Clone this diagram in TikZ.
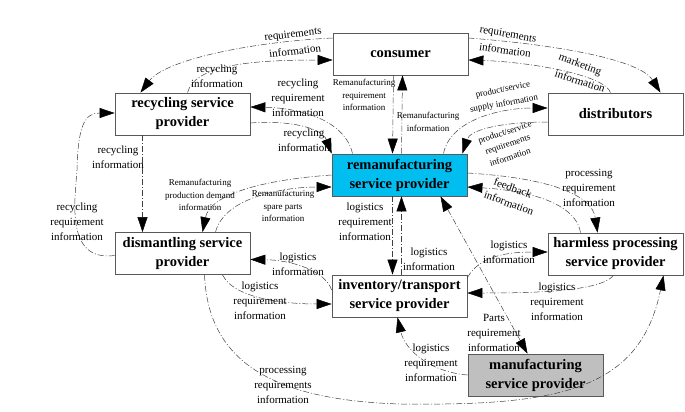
\documentclass[tikz,border=0pt]{standalone}
\usepackage{fontspec}
\setmainfont{Liberation Serif}
\usetikzlibrary{arrows.meta}
\begin{document}
\begin{tikzpicture}[x=1pt,y=-1pt,
  box/.style={draw=black!65,line width=0.8pt,minimum width=135pt,minimum height=42pt,
    inner sep=1pt,align=center,font=\fontsize{14.5}{19}\selectfont\bfseries},
  conn/.style={draw=black!75,line width=0.5pt,dash pattern=on 6pt off 2pt on 1pt off 2pt,
    -{Triangle[length=15pt,width=10pt,color=black]}},
  lab/.style={align=center,inner sep=0pt,font=\fontsize{11}{15}\selectfont},
  slab/.style={align=center,inner sep=0pt,font=\fontsize{9}{12.5}\selectfont}]
\useasboundingbox (0,0) rectangle (685,412);

% nodes
\node[box] (con) at (400.5,54) {consumer};
\node[box] (rec) at (182.5,114) {recycling service\\provider};
\node[box] (dst) at (615.5,114) {distributors};
\node[box,fill={rgb,255:red,0;green,190;blue,240}] (rem) at (399.5,175) {remanufacturing\\service provider};
\node[box] (dsm) at (182.5,253.5) {dismantling service\\provider};
\node[box] (har) at (615.5,254) {harmless processing\\service provider};
\node[box] (inv) at (399.5,296) {inventory/transport\\service provider};
\node[box,fill=black!25] (man) at (535.5,375) {manufacturing\\service provider};

% 1 consumer -> recycling
\draw[conn] ([yshift=16pt]con.west) .. controls (250,42) and (165,60) .. ([xshift=-42pt]rec.north);
\node[lab,rotate=7] (l1a) at (293,35) {requirements};
\node[lab,rotate=7] (l1b) at (295,51) {information};
% 2 recycling -> consumer
\draw[conn] ([xshift=5pt]rec.north) .. controls (195,65) and (250,60) .. ([yshift=-6pt]con.west);
\node[lab] (l2) at (217,76) {recycling\\information};
% 3 remanufacturing -> recycling
\draw[conn] ([xshift=-47pt]rem.north) .. controls (345,120) and (300,108) .. ([yshift=7pt]rec.east);
\node[lab] (l3) at (298,98) {recycling\\requirement\\information};
% 4 recycling -> remanufacturing
\draw[conn] ([yshift=-9pt]rec.east) .. controls (290,120) and (322,128) .. (rem.north west);
\node[lab] (l4) at (304,140) {recycling\\information};
% 5 consumer <-> remanufacturing
\draw[conn] ([xshift=-7pt]con.south) -- ([xshift=-7pt]rem.north);
\draw[conn] ([xshift=2pt]rem.north) -- ([xshift=2pt]con.south);
\node[slab] (l5a) at (364,95) {Remanufacturing\\requirement\\information};
\node[slab] (l5b) at (428,122) {Remanufacturing\\information};
% 6 consumer -> distributors
\draw[conn] ([yshift=16pt]con.east) .. controls (560,45) and (640,60) .. ([xshift=45pt]dst.north);
\node[lab,rotate=-10] (l6a) at (508,35) {requirements};
\node[lab,rotate=-8] (l6b) at (505,50) {information};
% 7 distributors -> consumer
\draw[conn] ([xshift=-5pt]dst.north) .. controls (605,75) and (530,62) .. ([yshift=-6pt]con.east);
\node[lab,rotate=-20] (l7a) at (580,65) {marketing};
\node[lab,rotate=-18] (l7b) at (580,81) {information};
% 8 remanufacturing -> distributors
\draw[conn] ([xshift=44pt]rem.north) .. controls (450,120) and (500,108) .. ([yshift=6pt]dst.west);
\node[slab,rotate=12] (l8a) at (503,90) {product/service};
\node[slab,rotate=10] (l8b) at (504,104) {supply information};
% 9 distributors -> remanufacturing
\draw[conn] ([yshift=-8pt]dst.west) .. controls (500,122) and (470,130) .. ([xshift=-5pt]rem.north east);
\node[slab,rotate=18] (l9a) at (505,133) {product/service};
\node[slab,rotate=18] (l9b) at (508,145) {requirements};
\node[slab,rotate=18] (l9c) at (510,157) {information};
% 10 remanufacturing -> harmless
\draw[conn] ([yshift=2pt]rem.east) .. controls (550,178) and (592,195) .. ([xshift=-18pt]har.north);
\node[lab] (l10) at (589,188) {processing\\requirement\\information};
% 11 harmless -> remanufacturing
\draw[conn] ([xshift=-35pt]har.north) .. controls (575,200) and (520,190) .. ([yshift=-12pt]rem.east);
\node[lab,rotate=-20] (l11a) at (513,188) {feedback};
\node[lab,rotate=-20] (l11b) at (509,203) {information};
% 12 remanufacturing <-> inventory
\draw[conn] ([xshift=-7pt]rem.south) -- ([xshift=-7pt]inv.north);
\draw[conn] ([xshift=2pt]inv.north) -- ([xshift=2pt]rem.south);
\node[lab] (l12a) at (365,222) {logistics\\requirement\\information};
\node[lab] (l12b) at (429,259.5) {logistics\\information};
% 13 inventory -> dismantling
\draw[conn] ([yshift=6pt]inv.west) .. controls (325,270) and (290,260) .. ([yshift=-6pt]dsm.east);
\node[lab] (l13) at (298,264.5) {logistics\\information};
% 14 dismantling -> inventory
\draw[conn] ([xshift=40pt]dsm.south) .. controls (235,300) and (290,304) .. ([yshift=-8pt]inv.west);
\node[lab] (l14) at (260,301) {logistics\\requirement\\information};
% 15 recycling -> dismantling
\draw[conn] ([xshift=-40pt]rec.south) -- ([xshift=-40pt]dsm.north);
\node[lab] (l15) at (118,157.5) {recycling\\information};
% 16 dismantling -> recycling
\draw[conn] ([yshift=-2pt]dsm.west) .. controls (65,262) and (75,200) .. (77,170) .. controls (78,125) and (85,113) .. ([yshift=1pt]rec.west);
\node[lab] (l16) at (77,222) {recycling\\requirement\\information};
% 17 remanufacturing -> dismantling
\draw[conn] (rem.west) .. controls (260,180) and (210,195) .. ([xshift=20pt]dsm.north);
\node[slab] (l17) at (200,195) {Remanufacturing\\production demand\\information};
% 18 dismantling -> remanufacturing
\draw[conn] ([xshift=33pt]dsm.north) .. controls (225,195) and (290,187) .. ([yshift=-12pt]rem.west);
\node[slab] (l18) at (283,206) {Remanufacturing\\spare parts\\information};
% 19 harmless -> inventory
\draw[conn] ([xshift=-2pt]har.south) .. controls (600,292) and (530,293) .. ([yshift=3pt]inv.east);
\node[lab] (l19) at (557,302) {logistics\\requirement\\information};
% 20 inventory -> harmless
\draw[conn] ([yshift=-3pt]inv.north east) .. controls (480,255) and (510,252) .. ([yshift=2pt]har.west);
\node[lab] (l20) at (509,252) {logistics\\information};
% 21 remanufacturing <-> manufacturing
\draw[conn,{Triangle[length=15pt,width=10pt,color=black]}-{Triangle[length=15pt,width=10pt,color=black]}] ([xshift=41pt]rem.south) -- ([xshift=-8pt]man.north);
\node[lab] (l21) at (494,333) {Parts\\requirement\\information};
% 22 manufacturing -> inventory
\draw[conn] (man.west) .. controls (430,372) and (405,350) .. ([xshift=-2pt]inv.south);
\node[lab] (l22) at (431,363) {logistics\\requirement\\information};
% 23 dismantling -> harmless
\draw[conn] ([xshift=22pt]dsm.south) .. controls (208,360) and (270,400) .. (400,404) .. controls (560,406) and (640,390) .. ([xshift=48pt]har.south);
\node[lab] (l23) at (283,385) {processing\\requirements\\information};
\end{tikzpicture}
\end{document}
